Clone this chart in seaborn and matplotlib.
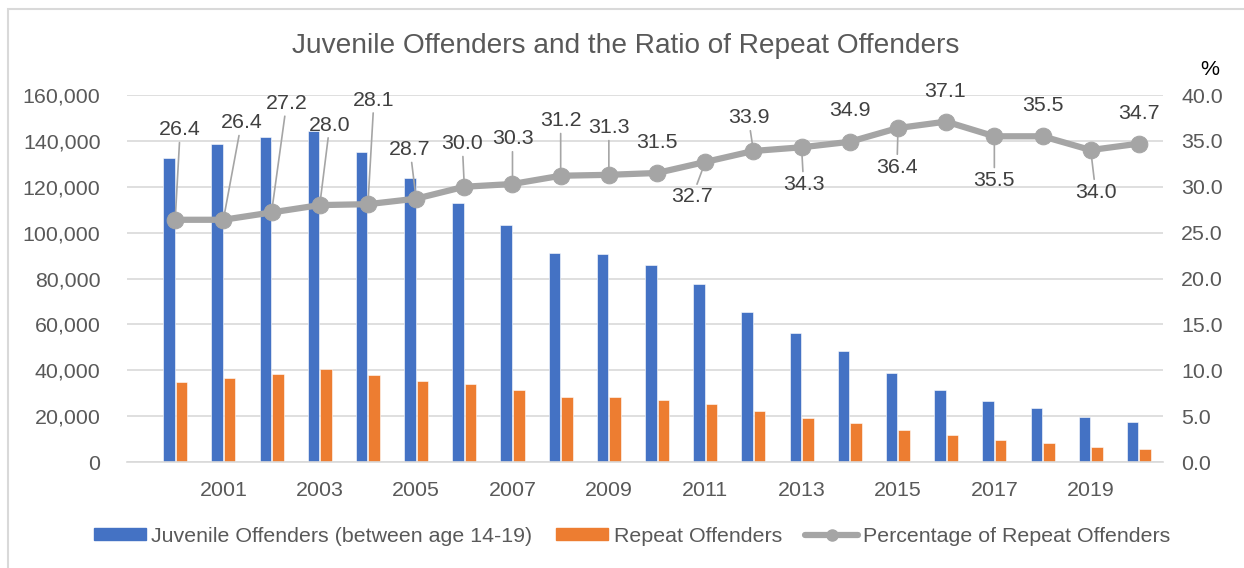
import matplotlib
matplotlib.use("Agg")
import matplotlib.pyplot as plt
from matplotlib.patches import Rectangle
from matplotlib.lines import Line2D
from matplotlib.ticker import FuncFormatter
import seaborn as sns
import pandas as pd
import numpy as np

# data
years = [str(y) for y in range(2000, 2021)]
juvenile = [132400, 138600, 141700, 144400, 135100, 123800, 112900, 103200,
            91000, 90500, 85900, 77600, 65500, 56200, 48200, 38800,
            31500, 26700, 23400, 19800, 17300]
repeat = [34900, 36500, 38500, 40500, 37900, 35500, 33900, 31400,
          28500, 28200, 27000, 25400, 22100, 19300, 16900, 13900,
          11800, 9600, 8400, 6700, 5800]
pct = [26.4, 26.4, 27.2, 28.0, 28.1, 28.7, 30.0, 30.3, 31.2, 31.3, 31.5,
       32.7, 33.9, 34.3, 34.9, 36.4, 37.1, 35.5, 35.5, 34.0, 34.7]

series_names = ["Juvenile Offenders (between age 14-19)", "Repeat Offenders"]
line_name = "Percentage of Repeat Offenders"
title = "Juvenile Offenders and the Ratio of Repeat Offenders"

# label placement (pixel offsets from the marker) and whether a leader line is drawn
label_offsets = [(5, 90), (18, 97), (15, 109), (10, 80), (6, 104), (-6, 49),
                 (-2, 43), (0, 45), (0, 55), (0, 47), (0, 30), (-13, -35),
                 (-5, 33), (2, -37), (0, 31), (-1, -39), (-1, 30), (0, -44),
                 (0, 31), (5, -42), (0, 30)]
leaders = [1, 1, 1, 1, 1, 1, 1, 1, 1, 1, 0, 1, 1, 1, 0, 1, 0, 1, 0, 1, 0]

BLUE = "#4472C4"
ORANGE = "#ED7D31"
GRAY = "#A5A5A5"
GRID = "#D9D9D9"
TXT = "#595959"
FS = 15.4

sns.set_style("white")
plt.rcParams["font.family"] = ["Liberation Sans", "DejaVu Sans"]

df = pd.DataFrame({"Year": years * 2,
                   "Value": juvenile + repeat,
                   "Series": [series_names[0]] * len(years) + [series_names[1]] * len(years)})

fig = plt.figure(figsize=(12.44, 5.68), dpi=100)
ax = fig.add_axes([127 / 1244, 1 - 462 / 568, (1163 - 127) / 1244, (462 - 95) / 568])

sns.barplot(data=df, x="Year", y="Value", hue="Series", order=years,
            hue_order=series_names, palette=[BLUE, ORANGE], saturation=1,
            width=0.52, gap=0.08, edgecolor="white", linewidth=0.4,
            legend=False, ax=ax)

ax.set_ylim(0, 160000)
ax.set_yticks(np.arange(0, 160001, 20000))
ax.yaxis.set_major_formatter(FuncFormatter(lambda v, p: f"{int(v):,}"))
ax.grid(axis="y", color=GRID, lw=1.2)
ax.set_axisbelow(True)
for s in ["top", "left", "right"]:
    ax.spines[s].set_visible(False)
ax.spines["bottom"].set_color(GRID)
ax.spines["bottom"].set_linewidth(1.2)
ax.set_xlabel("")
ax.set_ylabel("")
odd = [i for i, y in enumerate(years) if int(y) % 2 == 1]
ax.set_xticks(odd)
ax.set_xticklabels([years[i] for i in odd])
ax.tick_params(axis="x", length=0, pad=14, labelsize=FS, labelcolor=TXT)
ax.tick_params(axis="y", length=0, pad=19, labelsize=FS, labelcolor=TXT)

ax2 = ax.twinx()
xpos = np.arange(len(years))
sns.lineplot(x=xpos, y=pct, color=GRAY, lw=4.5, marker="o", markersize=12,
             markeredgecolor=GRAY, ax=ax2)
ax2.set_ylim(0, 40)
ax2.set_yticks(np.arange(0, 40.1, 5))
ax2.yaxis.set_major_formatter(FuncFormatter(lambda v, p: f"{v:.1f}"))
ax2.tick_params(axis="y", length=0, pad=13, labelsize=FS, labelcolor=TXT)
for s in ax2.spines.values():
    s.set_visible(False)
ax2.grid(False)
ax.set_xlim(-1, 20.5)
ax2.set_xlim(-1, 20.5)

for i, v in enumerate(pct):
    dx, dy = label_offsets[i]
    arrow = dict(arrowstyle="-", color=GRAY, lw=1.2, shrinkA=0, shrinkB=2) if leaders[i] else None
    ax2.annotate(f"{v:.1f}", xy=(i, v), xytext=(dx, dy), textcoords="offset pixels",
                 ha="center", va="center", fontsize=FS, color="#404040",
                 arrowprops=arrow, annotation_clip=False)

fig.text(1210 / 1244, 1 - 70 / 568, "%", ha="center", va="center", fontsize=FS, color="black")
fig.text(626 / 1244, 1 - 46 / 568, title, ha="center", va="center", fontsize=20.2, color=TXT)

handles = [Rectangle((0, 0), 1, 1, color=BLUE), Rectangle((0, 0), 1, 1, color=ORANGE),
           Line2D([0], [0], color=GRAY, lw=4.5, marker="o", markersize=8)]
fig.legend(handles, series_names + [line_name], loc="center", ncol=3,
           bbox_to_anchor=(632 / 1244, 1 - 536 / 568), frameon=False, fontsize=FS,
           labelcolor=TXT, handlelength=2.45, handleheight=0.5, handletextpad=0.25,
           columnspacing=1.1)

fig.patches.append(Rectangle((8 / 1244, -0.1), 1.2, 1 - 9 / 568 + 0.1, transform=fig.transFigure,
                             fill=False, edgecolor=GRID, lw=1.5))

fig.savefig("out.png", dpi=100)
